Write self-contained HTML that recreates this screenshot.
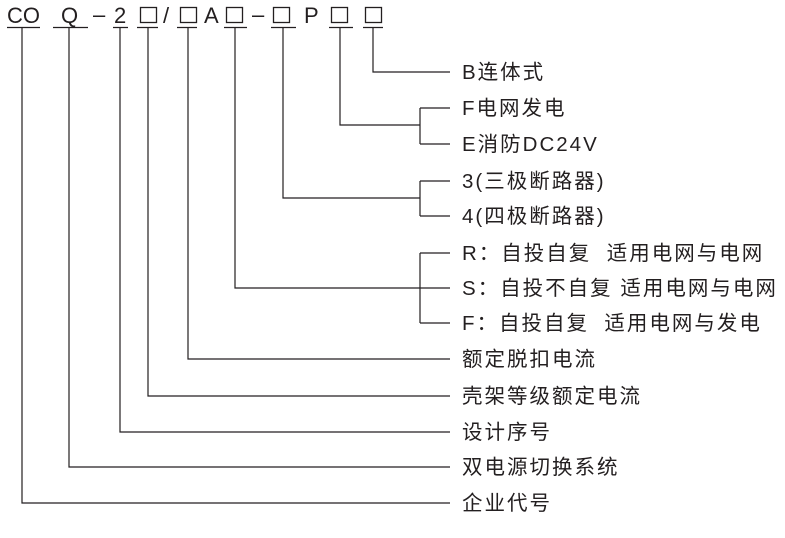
<!DOCTYPE html>
<html><head><meta charset="utf-8"><style>
body{margin:0;background:#fff;}
svg text{font-family:"Liberation Sans","Noto Sans CJK SC",sans-serif;fill:#231f20;}
</style></head><body>
<svg width="785" height="533" viewBox="0 0 785 533" xmlns="http://www.w3.org/2000/svg">
<g font-size="22">
<text x="7" y="23">CO</text>
<text x="61" y="23">Q</text>
<text x="93" y="22">–</text>
<text x="114" y="23">2</text>
<text x="163" y="23">/</text>
<text x="204" y="23">A</text>
<text x="252" y="22">–</text>
<text x="304" y="23">P</text>
</g>
<g fill="none" stroke="#231f20" stroke-width="1.3">
<rect x="140.5" y="7.5" width="16" height="15"/>
<rect x="180.5" y="7.5" width="16" height="15"/>
<rect x="226.5" y="7.5" width="16" height="15"/>
<rect x="273.5" y="7.5" width="16" height="15"/>
<rect x="331.5" y="7.5" width="16" height="15"/>
<rect x="365.5" y="7.5" width="16" height="15"/>
</g>
<g stroke="#231f20" stroke-width="1.2" fill="none">
<path d="M7 27.5H40M53 27.5H88M113 27.5H128M137 27.5H158M177 27.5H197M224 27.5H247M271 27.5H296M329 27.5H353M363 27.5H383"/>
<path d="M373 27V72H450"/>
<path d="M340 27V125H420M420 108V144M420 108H450M420 144H450"/>
<path d="M283 27V198H420M420 181V216M420 181H450M420 216H450"/>
<path d="M235 27V288H450M420 253V323M420 253H450M420 323H450"/>
<path d="M188 27V359H450"/>
<path d="M148 27V396H450"/>
<path d="M120 27V432H450"/>
<path d="M69 27V467H450"/>
<path d="M22 27V503H450"/>
</g>
<g font-size="20.5" letter-spacing="2">
<text x="462" y="79">B连体式</text>
<text x="462" y="115">F电网发电</text>
<text x="462" y="151">E消防DC24V</text>
<text x="462" y="188">3(三极断路器)</text>
<text x="462" y="223">4(四极断路器)</text>
<text x="462" y="260" xml:space="preserve">R：自投自复  适用电网与电网</text>
<text x="462" y="295">S：自投不自复 适用电网与电网</text>
<text x="462" y="330" xml:space="preserve">F：自投自复  适用电网与发电</text>
<text x="462" y="366">额定脱扣电流</text>
<text x="462" y="403">壳架等级额定电流</text>
<text x="462" y="439">设计序号</text>
<text x="462" y="474">双电源切换系统</text>
<text x="462" y="510">企业代号</text>
</g>
</svg>
</body></html>
